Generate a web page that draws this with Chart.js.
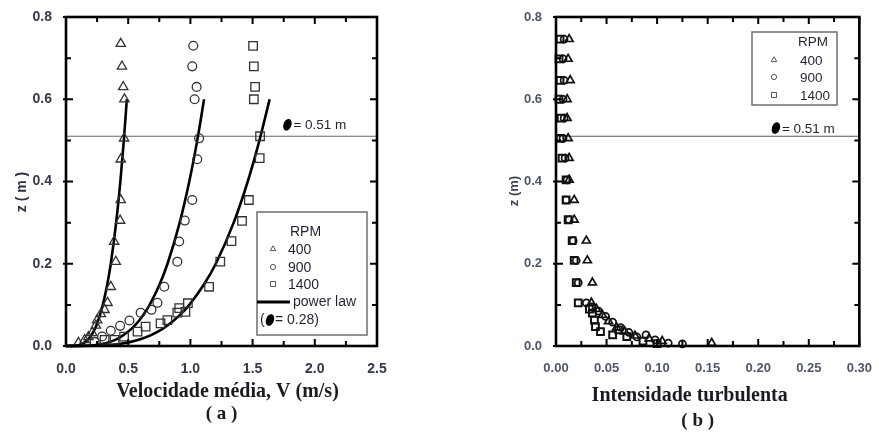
<!DOCTYPE html>
<html>
<head>
<meta charset="utf-8">
<script src="https://cdn.jsdelivr.net/npm/chart.js@4"></script>
<style>
  body { margin: 0; background: #fff; }
  canvas { position: absolute; top: 0; }
</style>
</head>
<body>
<canvas id="velocidade" width="440" height="432" style="left:0"></canvas>
<canvas id="intensidade" width="439" height="432" style="left:440px"></canvas>
<script>
// (a) velocidade media: pontos medidos por rotacao
var v400 = [0.44, 0.45, 0.46, 0.47, 0.467, 0.44, 0.44, 0.435, 0.387, 0.40, 0.36, 0.334, 0.31, 0.28, 0.25, 0.24, 0.21, 0.18, 0.15, 0.10];
var z400 = [0.735, 0.68, 0.63, 0.60, 0.505, 0.454, 0.355, 0.305, 0.254, 0.205, 0.144, 0.105, 0.088, 0.078, 0.063, 0.05, 0.032, 0.022, 0.015, 0.008];
var v900 = [1.023, 1.015, 1.05, 1.034, 1.07, 1.055, 1.015, 0.955, 0.91, 0.895, 0.79, 0.735, 0.687, 0.60, 0.51, 0.435, 0.36, 0.29, 0.23];
var z900 = [0.73, 0.68, 0.63, 0.60, 0.505, 0.454, 0.355, 0.305, 0.254, 0.205, 0.144, 0.105, 0.088, 0.081, 0.062, 0.049, 0.037, 0.023, 0.01];
var v1400 = [1.504, 1.51, 1.52, 1.51, 1.56, 1.557, 1.47, 1.415, 1.33, 1.24, 1.15, 0.98, 0.96, 0.91, 0.895, 0.815, 0.76, 0.64, 0.575, 0.467, 0.39, 0.31];
var z1400 = [0.73, 0.68, 0.63, 0.60, 0.51, 0.457, 0.355, 0.304, 0.255, 0.205, 0.144, 0.104, 0.083, 0.092, 0.081, 0.063, 0.055, 0.047, 0.035, 0.023, 0.015, 0.015];

// curvas "power law" (alpha = 0.28), lidas ao longo do traco
var zLei = [0, 0.002, 0.005, 0.01, 0.02, 0.035, 0.05, 0.075, 0.1, 0.15, 0.2, 0.3, 0.4, 0.5, 0.6];
var vLei400 = [0, 0.099, 0.128, 0.155, 0.189, 0.221, 0.244, 0.273, 0.296, 0.332, 0.360, 0.403, 0.437, 0.465, 0.489];
var vLei900 = [0, 0.225, 0.290, 0.353, 0.428, 0.501, 0.554, 0.620, 0.672, 0.753, 0.816, 0.914, 0.991, 1.055, 1.110];
var vLei1400 = [0, 0.331, 0.428, 0.520, 0.632, 0.739, 0.816, 0.915, 0.991, 1.110, 1.204, 1.348, 1.461, 1.555, 1.637];

// (b) intensidade turbulenta
var i400 = [0.013, 0.012, 0.014, 0.011, 0.011, 0.012, 0.013, 0.013, 0.018, 0.018, 0.030, 0.031, 0.036, 0.035, 0.040, 0.046, 0.052, 0.060, 0.068, 0.078, 0.092, 0.105, 0.154];
var zi400 = [0.746, 0.698, 0.646, 0.600, 0.554, 0.505, 0.457, 0.404, 0.355, 0.307, 0.256, 0.208, 0.154, 0.105, 0.09, 0.075, 0.06, 0.045, 0.035, 0.025, 0.018, 0.012, 0.007];
var i900 = [0.008, 0.007, 0.008, 0.007, 0.008, 0.007, 0.009, 0.011, 0.010, 0.013, 0.017, 0.020, 0.022, 0.030, 0.036, 0.042, 0.049, 0.056, 0.064, 0.072, 0.080, 0.089, 0.098, 0.111, 0.125];
var zi900 = [0.746, 0.698, 0.646, 0.600, 0.554, 0.505, 0.457, 0.404, 0.355, 0.307, 0.256, 0.208, 0.154, 0.105, 0.095, 0.085, 0.072, 0.058, 0.045, 0.033, 0.022, 0.027, 0.015, 0.007, 0.005];
var i1400 = [0.004, 0.003, 0.004, 0.003, 0.005, 0.004, 0.006, 0.010, 0.010, 0.012, 0.016, 0.018, 0.020, 0.022, 0.033, 0.036, 0.038, 0.039, 0.044, 0.056, 0.062, 0.070, 0.086, 0.100];
var zi1400 = [0.746, 0.698, 0.646, 0.600, 0.554, 0.505, 0.457, 0.404, 0.355, 0.307, 0.256, 0.208, 0.154, 0.105, 0.09, 0.08, 0.063, 0.047, 0.035, 0.027, 0.039, 0.023, 0.012, 0.006];

var zRef = 0.51;
var rpm = ['400', '900', '1400'];

function pares(xs, ys) {
  return xs.map(function (x, k) { return { x: x, y: ys[k] }; });
}

var SANS = '"Liberation Sans", Arial, sans-serif';
var SERIF = '"Liberation Serif", "Times New Roman", serif';

function marca(ctx, estilo, r, x, y, cor, lw) {
  ctx.save();
  ctx.fillStyle = 'rgba(0,0,0,0)';
  ctx.strokeStyle = cor;
  ctx.lineWidth = lw;
  Chart.helpers.drawPoint(ctx, { pointStyle: estilo, radius: r, borderWidth: lw, rotation: 0 }, x, y);
  ctx.restore();
}

function bolinha(ctx, x, y) {
  ctx.beginPath();
  ctx.ellipse(x, y, 4, 6, 0.35, 0, Math.PI * 2);
  ctx.fillStyle = '#000';
  ctx.fill();
}

// moldura, ticks para dentro, legenda, anotacao e titulos
var moldura = {
  id: 'moldura',
  afterDatasetsDraw: function (chart, args, o) {
    var ctx = chart.ctx, a = chart.chartArea, sx = chart.scales.x, sy = chart.scales.y;
    ctx.save();
    ctx.strokeStyle = '#000';
    ctx.lineWidth = 2;
    var v, p, maior, L;
    for (v = sx.min; v <= sx.max + 1e-9; v += o.xMenor) {
      p = sx.getPixelForValue(v);
      maior = Math.abs(v / o.xMaior - Math.round(v / o.xMaior)) < 1e-6;
      L = maior ? 7 : 5;
      ctx.beginPath();
      ctx.moveTo(p, a.bottom); ctx.lineTo(p, a.bottom - L);
      ctx.moveTo(p, a.top); ctx.lineTo(p, a.top + L);
      ctx.stroke();
    }
    for (v = sy.min; v <= sy.max + 1e-9; v += o.yMenor) {
      p = sy.getPixelForValue(v);
      maior = Math.abs(v / o.yMaior - Math.round(v / o.yMaior)) < 1e-6;
      L = maior ? 7 : 5;
      ctx.beginPath();
      ctx.moveTo(a.left - (maior ? 3 : 0), p); ctx.lineTo(a.left + L, p);
      ctx.moveTo(a.right, p); ctx.lineTo(a.right - L, p);
      ctx.stroke();
    }
    ctx.lineWidth = 2.6;
    ctx.strokeRect(a.left, a.top, a.width, a.height);

    // anotacao z = 0.51 m
    var ax = sx.getPixelForValue(o.nota[0]), ay = sy.getPixelForValue(o.nota[1]);
    bolinha(ctx, ax, ay);
    ctx.fillStyle = '#1e2433';
    ctx.font = '13.5px ' + SANS;
    ctx.textAlign = 'left';
    ctx.textBaseline = 'middle';
    ctx.fillText('= 0.51 m', ax + 6, ay + 1);

    // legenda
    var g = o.legenda;
    ctx.strokeStyle = '#6e6e6e';
    ctx.lineWidth = 1.5;
    ctx.strokeRect(g.caixa[0], g.caixa[1], g.caixa[2] - g.caixa[0], g.caixa[3] - g.caixa[1]);
    ctx.fillStyle = '#1e2433';
    ctx.font = g.fonte + 'px ' + SANS;
    ctx.textAlign = 'left';
    ctx.fillText('RPM', g.rpm[0], g.rpm[1]);
    var estilos = ['triangle', 'circle', 'rect'], raios = [3.2, 2.6, 3.6];
    for (var k = 0; k < 3; k++) {
      marca(ctx, estilos[k], raios[k], g.mx, g.linhas[k], '#555', 1);
      ctx.fillStyle = '#1e2433';
      ctx.fillText(rpm[k], g.tx, g.linhas[k] + 1);
    }
    if (g.lei) {
      ctx.strokeStyle = '#000';
      ctx.lineWidth = 3;
      ctx.beginPath();
      ctx.moveTo(g.lei[0], g.lei[2]); ctx.lineTo(g.lei[1], g.lei[2]);
      ctx.stroke();
      ctx.fillText('power law', g.lei[1] + 3, g.lei[2]);
      ctx.fillText('(', g.alfa[0], g.alfa[1]);
      bolinha(ctx, g.alfa[0] + 10, g.alfa[1]);
      ctx.fillStyle = '#1e2433';
      ctx.fillText('= 0.28)', g.alfa[0] + 15, g.alfa[1]);
    }

    // titulos dos eixos
    var cx = (a.left + a.right) / 2;
    ctx.fillStyle = '#1c1a22';
    ctx.textAlign = 'center';
    ctx.font = 'bold ' + o.legX[2] + 'px ' + SERIF;
    ctx.fillText(o.legX[0], cx + o.legX[1], o.legX[3]);
    ctx.font = 'bold 19px ' + SERIF;
    ctx.fillText(o.sub[0], cx + o.sub[1], o.sub[2]);

    ctx.save();
    ctx.translate(o.legY[1], o.legY[2]);
    ctx.rotate(-Math.PI / 2);
    ctx.fillStyle = o.corTick;
    ctx.font = 'bold ' + o.legY[3] + 'px ' + SANS;
    ctx.fillText(o.legY[0], 0, 0);
    ctx.restore();
    ctx.restore();
  }
};

function eixos(xMax, xPasso, xDec, fonte, cor, larguraY) {
  return {
    x: {
      type: 'linear', min: 0, max: xMax,
      grid: { display: false }, border: { display: false },
      ticks: {
        stepSize: xPasso, padding: 7, color: cor,
        font: { family: SANS, size: fonte, weight: 'bold' },
        callback: function (v) { return v.toFixed(xDec); }
      },
      afterFit: function (s) { s.height = 86; }
    },
    y: {
      type: 'linear', min: 0, max: 0.8,
      grid: { display: false }, border: { display: false },
      ticks: {
        stepSize: 0.2, padding: 6, color: cor,
        font: { family: SANS, size: fonte, weight: 'bold' },
        callback: function (v) { return v.toFixed(1); }
      },
      afterFit: function (s) { s.width = larguraY; }
    }
  };
}

function pontos(dados, estilo, r, cor, lw) {
  return {
    data: dados, pointStyle: estilo, pointRadius: r, pointHoverRadius: r,
    pointBackgroundColor: 'rgba(0,0,0,0)', pointBorderColor: cor, pointBorderWidth: lw,
    showLine: false, clip: false
  };
}

function curva(dados, cor, lw) {
  return {
    data: dados, showLine: true, pointRadius: 0, borderColor: cor, borderWidth: lw,
    cubicInterpolationMode: 'monotone', clip: false
  };
}

Chart.defaults.font.family = SANS;

new Chart(document.getElementById('velocidade'), {
  type: 'scatter',
  data: {
    datasets: [
      pontos(pares(v400, z400), 'triangle', 5.4, '#333', 1.3),
      pontos(pares(v900, z900), 'circle', 4.4, '#333', 1.3),
      pontos(pares(v1400, z1400), 'rect', 6, '#333', 1.3),
      curva(pares(vLei400, zLei), '#000', 2.6),
      curva(pares(vLei900, zLei), '#000', 2.6),
      curva(pares(vLei1400, zLei), '#000', 2.6),
      curva([{ x: 0, y: zRef }, { x: 2.5, y: zRef }], '#666', 1.2)
    ]
  },
  options: {
    responsive: false, animation: false, devicePixelRatio: 1,
    layout: { padding: { left: 0, right: 63, top: 17, bottom: 0 } },
    scales: eixos(2.5, 0.5, 1, 14, '#343a4c', 66),
    plugins: {
      legend: { display: false }, tooltip: { enabled: false },
      moldura: {
        xMenor: 0.25, xMaior: 0.5, yMenor: 0.1, yMaior: 0.2,
        nota: [1.78, 0.538],
        corTick: '#2c3242',
        legenda: {
          caixa: [257, 212, 367, 335], fonte: 14, rpm: [290, 232],
          mx: 273, tx: 288, linhas: [249, 267, 284],
          lei: [257, 290, 302], alfa: [260, 320]
        },
        legX: ['Velocidade média, V (m/s)', 6, 20, 392],
        sub: ['( a )', 0, 414],
        legY: ['z ( m )', 22, 192, 14]
      }
    }
  },
  plugins: [moldura]
});

new Chart(document.getElementById('intensidade'), {
  type: 'scatter',
  data: {
    datasets: [
      pontos(pares(i1400, zi1400), 'rect', 4.8, '#111', 2),
      pontos(pares(i900, zi900), 'circle', 3.5, '#111', 1.7),
      pontos(pares(i400, zi400), 'triangle', 4.6, '#111', 1.7),
      curva([{ x: 0, y: zRef }, { x: 0.3, y: zRef }], '#555', 1.2)
    ]
  },
  options: {
    responsive: false, animation: false, devicePixelRatio: 1,
    layout: { padding: { left: 0, right: 14, top: 17, bottom: 0 } },
    scales: eixos(0.3, 0.05, 2, 13, '#4d566c', 116),
    plugins: {
      legend: { display: false }, tooltip: { enabled: false },
      moldura: {
        xMenor: 0.025, xMaior: 0.05, yMenor: 0.1, yMaior: 0.2,
        nota: [0.2175, 0.53],
        corTick: '#3c4356',
        legenda: {
          caixa: [312, 32, 397, 105], fonte: 13.5, rpm: [358, 42],
          mx: 334, tx: 360, linhas: [60, 77, 95]
        },
        legX: ['Intensidade turbulenta', -18, 20, 396],
        sub: ['( b )', -10, 421],
        legY: ['z (m)', 74, 191, 13]
      }
    }
  },
  plugins: [moldura]
});
</script>
</body>
</html>
